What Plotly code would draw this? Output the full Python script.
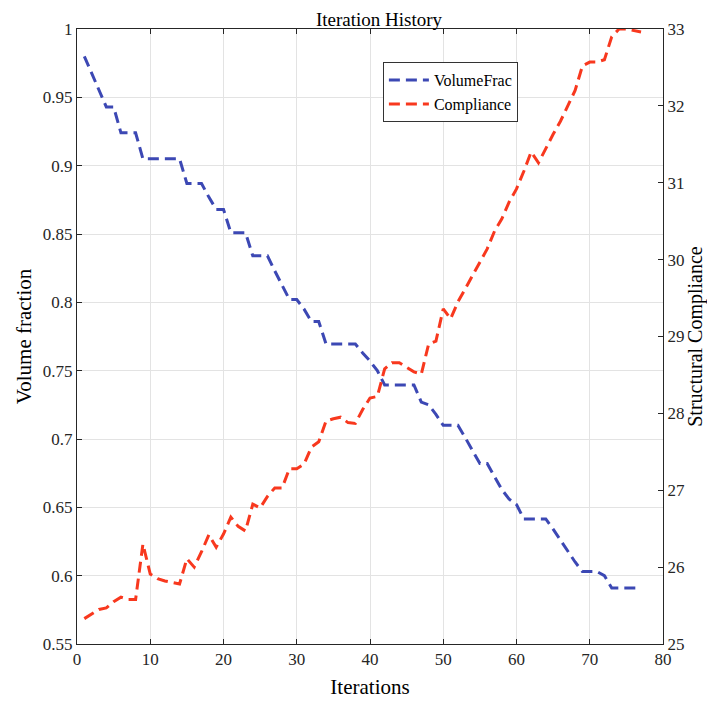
import plotly.graph_objects as go

iterations = list(range(1, 78))

volume_frac = [
    0.980, 0.968, 0.955, 0.943, 0.943, 0.924, 0.924, 0.924, 0.905, 0.905,
    0.905, 0.905, 0.905, 0.905, 0.887, 0.887, 0.887, 0.877, 0.868, 0.868,
    0.851, 0.851, 0.851, 0.834, 0.834, 0.834, 0.823, 0.812, 0.802, 0.802,
    0.795, 0.786, 0.786, 0.7695, 0.7695, 0.7695, 0.7695, 0.7695, 0.763, 0.757,
    0.750, 0.7395, 0.7395, 0.7395, 0.7395, 0.7395, 0.727, 0.725, 0.718, 0.710,
    0.710, 0.710, 0.701, 0.691, 0.682, 0.682, 0.672, 0.663, 0.656, 0.652,
    0.6415, 0.6415, 0.6415, 0.6415, 0.634, 0.626, 0.618, 0.610, 0.603, 0.603,
    0.603, 0.600, 0.591, 0.591, 0.591, 0.591, 0.591,
]

compliance = [
    25.33, 25.39, 25.45, 25.47, 25.55, 25.61, 25.58, 25.58, 26.30, 25.91,
    25.85, 25.82, 25.80, 25.78, 26.11, 26.00, 26.20, 26.42, 26.26, 26.43,
    26.65, 26.53, 26.47, 26.82, 26.77, 26.92, 27.03, 27.03, 27.28, 27.28,
    27.34, 27.56, 27.63, 27.90, 27.93, 27.95, 27.88, 27.87, 28.05, 28.20,
    28.22, 28.58, 28.66, 28.66, 28.60, 28.54, 28.51, 28.90, 28.94, 29.36,
    29.23, 29.45, 29.62, 29.80, 29.96, 30.14, 30.37, 30.53, 30.75, 30.92,
    31.15, 31.40, 31.26, 31.45, 31.63, 31.80, 32.00, 32.20, 32.52, 32.57,
    32.57, 32.60, 32.90, 33.00, 33.00, 32.98, 32.96,
]

x_ticks = [0, 10, 20, 30, 40, 50, 60, 70, 80]
left_ticks = [0.55, 0.6, 0.65, 0.7, 0.75, 0.8, 0.85, 0.9, 0.95, 1.0]
left_tick_text = ["0.55", "0.6", "0.65", "0.7", "0.75", "0.8", "0.85", "0.9", "0.95", "1"]
right_ticks = [25, 26, 27, 28, 29, 30, 31, 32, 33]

FONT = "Liberation Serif, Times New Roman, serif"
AX = "#262626"
GRID = "#E3E3E3"

fig = go.Figure()
fig.add_trace(go.Scatter(
    x=iterations, y=volume_frac, mode="lines", name="VolumeFrac",
    line=dict(color="#3C48B4", width=3, dash="11px,6px"), yaxis="y",
))
fig.add_trace(go.Scatter(
    x=iterations, y=compliance, mode="lines", name="Compliance",
    line=dict(color="#F8381E", width=3, dash="11px,6px"), yaxis="y2",
))

# page body has an 8px margin: figure origin is at (8, 8) in the window
fig.update_layout(
    width=707, height=693,
    margin=dict(l=69, r=52, t=21, b=57),
    paper_bgcolor="white", plot_bgcolor="white",
    font=dict(family=FONT, size=17, color="#262626"),
    title=dict(text="Iteration History", x=(379 - 8) / 707, xanchor="center",
               y=1 - 11 / 693, yref="container", yanchor="middle", pad=dict(t=0, b=0),
               font=dict(family=FONT, size=19, color="#000000")),
    showlegend=True,
    legend=dict(x=0.522, y=0.946, xanchor="left", yanchor="top",
                bgcolor="white", bordercolor="#333333", borderwidth=1,
                font=dict(family=FONT, size=16, color="#000000"),
                tracegroupgap=0, itemwidth=40),
    xaxis=dict(range=[0, 80], tickvals=x_ticks, ticks="inside", ticklen=5,
               tickcolor=AX, showline=True, linecolor=AX, linewidth=1,
               mirror="ticks", showgrid=True, gridcolor=GRID, zeroline=False,
               automargin=False,
               title=dict(text="Iterations", standoff=10,
                          font=dict(family=FONT, size=21, color="#000000")),
               tickfont=dict(family=FONT, size=17, color="#262626")),
    yaxis=dict(range=[0.55, 1.0], tickvals=left_ticks, ticktext=left_tick_text,
               ticks="inside", ticklen=5, tickcolor=AX, showline=True,
               linecolor=AX, linewidth=1, showgrid=True, gridcolor=GRID,
               zeroline=False, automargin=False,
               title=dict(text="Volume fraction", standoff=5,
                          font=dict(family=FONT, size=21, color="#000000")),
               tickfont=dict(family=FONT, size=17, color="#262626")),
    yaxis2=dict(range=[25, 33], tickvals=right_ticks, overlaying="y", side="right",
                ticks="inside", ticklen=5, tickcolor=AX, showline=True,
                linecolor=AX, linewidth=1, showgrid=False, zeroline=False,
                automargin=False,
                title=dict(text="Structural Compliance", standoff=3,
                           font=dict(family=FONT, size=20, color="#000000")),
                tickfont=dict(family=FONT, size=17, color="#262626")),
)

fig.write_html("out.html")
